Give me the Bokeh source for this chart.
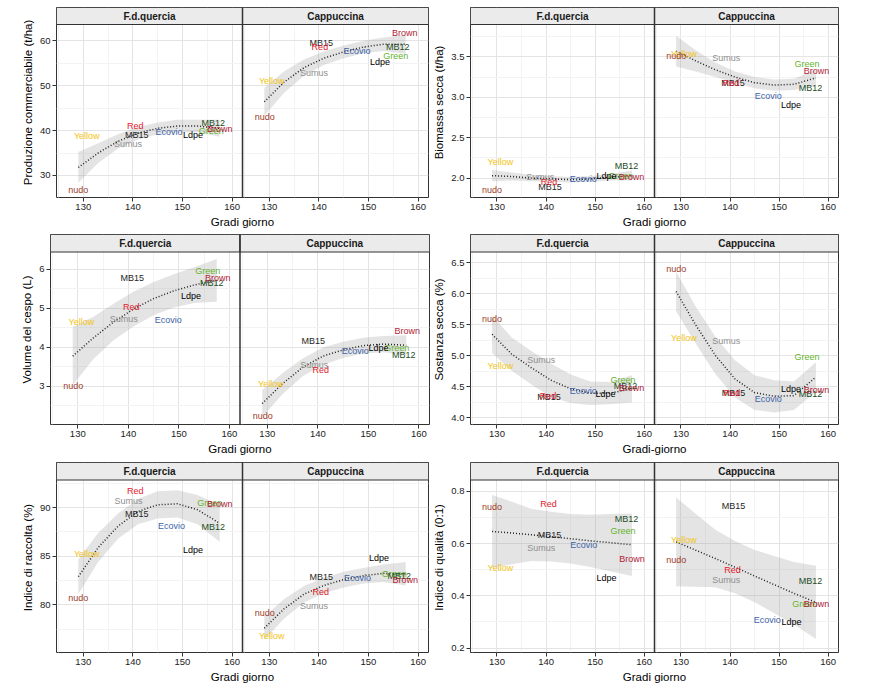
import numpy as np
from bokeh.plotting import figure
from bokeh.layouts import column, row
from bokeh.models import (Range1d, FixedTicker, CustomJSTickFormatter,
                          PrintfTickFormatter, Span, ColumnDataSource)
from bokeh.core.properties import value
from bokeh.embed import file_html
from bokeh.resources import INLINE

FONT = "Liberation Sans"

# ---------------- data ----------------
TREAT = ["nudo", "Yellow", "Sumus", "Red", "MB15", "Ecovio", "Ldpe", "Green", "MB12", "Brown"]
COLORS = ["#9c3b2a", "#f2c314", "#8f8f8f", "#e3202b", "#262626", "#3e63a8",
          "#000000", "#66b32e", "#1e4d1e", "#b02235"]
DRAW_ORDER = ["Yellow", "Green", "MB12", "Sumus", "MB15", "Red", "Ecovio", "Ldpe", "Brown", "nudo"]
SITES = ["F.d.quercia", "Cappuccina"]

X_LIM = (124.6, 162.1)
X_TICKS = [130, 140, 150, 160]
X_MINOR = [125, 135, 145, 155]
FIT_X = [129, 133, 137, 141, 145, 149, 153, 157.5]

# Produzione commerciabile (t/ha)
PROD_FQ_X = [129.0, 130.7, 139.0, 140.5, 140.8, 147.3, 152.1, 155.8, 156.2, 157.5]
PROD_FQ_Y = [26.8, 38.7, 36.9, 41.0, 39.0, 39.6, 39.1, 39.9, 41.7, 40.4]
PROD_CA_X = [129.1, 130.5, 139.0, 140.2, 140.5, 147.7, 152.3, 155.5, 155.9, 157.3]
PROD_CA_Y = [43.1, 51.0, 52.7, 58.5, 59.5, 57.8, 55.2, 56.6, 58.5, 61.6]
PROD_FQ_FIT = [31.8, 35.0, 37.6, 39.4, 40.5, 41.0, 41.0, 40.5]
PROD_FQ_SE = [3.4, 2.2, 1.6, 1.4, 1.3, 1.4, 1.4, 1.9]
PROD_CA_FIT = [46.4, 50.8, 54.0, 56.1, 57.5, 58.6, 59.2, 59.2]
PROD_CA_SE = [3.1, 2.4, 1.8, 1.5, 1.4, 1.4, 1.5, 2.1]

# Biomassa secca (t/ha)
BIOM_FQ_X = [129.0, 130.7, 138.8, 140.6, 140.8, 147.6, 152.3, 155.2, 156.4, 157.4]
BIOM_FQ_Y = [1.85, 2.20, 2.01, 1.95, 1.89, 1.99, 2.02, 2.03, 2.15, 2.01]
BIOM_CA_X = [129.05, 130.6, 139.2, 140.2, 140.6, 147.8, 152.4, 155.7, 156.4, 157.6]
BIOM_CA_Y = [3.51, 3.53, 3.48, 3.18, 3.18, 3.01, 2.91, 3.41, 3.11, 3.33]
BIOM_FQ_FIT = [2.03, 2.02, 2.00, 1.99, 1.98, 1.99, 2.01, 2.03]
BIOM_FQ_SE = [0.07, 0.05, 0.04, 0.035, 0.035, 0.035, 0.04, 0.06]
BIOM_CA_FIT = [3.57, 3.45, 3.34, 3.25, 3.18, 3.15, 3.16, 3.24]
BIOM_CA_SE = [0.19, 0.13, 0.09, 0.07, 0.07, 0.07, 0.07, 0.10]

# Volume del cespo (L)
VOL_FQ_X = [129.1, 130.7, 139.1, 140.6, 140.8, 147.9, 152.4, 155.7, 156.5, 157.7]
VOL_FQ_Y = [3.01, 4.66, 4.72, 5.03, 5.79, 4.69, 5.32, 5.96, 5.64, 5.77]
VOL_CA_X = [129.1, 130.7, 139.3, 140.6, 139.1, 147.4, 152.0, 155.6, 157.0, 157.7]
VOL_CA_Y = [2.23, 3.06, 3.53, 3.41, 4.16, 3.90, 3.97, 3.97, 3.80, 4.42]
VOL_FQ_FIT = [3.77, 4.23, 4.64, 4.98, 5.25, 5.45, 5.60, 5.72]
VOL_FQ_SE = [0.75, 0.55, 0.47, 0.45, 0.43, 0.43, 0.46, 0.55]
VOL_CA_FIT = [2.55, 3.06, 3.48, 3.77, 3.93, 4.04, 4.08, 4.05]
VOL_CA_SE = [0.35, 0.27, 0.23, 0.22, 0.21, 0.20, 0.21, 0.26]

# Sostanza secca (%)
SS_FQ_X = [129.0, 130.7, 139.0, 140.4, 140.6, 147.6, 152.1, 155.7, 156.2, 157.4]
SS_FQ_Y = [5.59, 4.84, 4.94, 4.35, 4.34, 4.44, 4.39, 4.61, 4.51, 4.49]
SS_CA_X = [129.05, 130.6, 139.2, 140.4, 140.7, 147.8, 152.4, 155.7, 156.4, 157.6]
SS_CA_Y = [6.40, 5.29, 5.24, 4.40, 4.40, 4.31, 4.46, 4.99, 4.38, 4.45]
SS_FQ_FIT = [5.35, 5.03, 4.81, 4.61, 4.47, 4.40, 4.40, 4.47]
SS_FQ_SE = [0.30, 0.27, 0.27, 0.27, 0.23, 0.19, 0.18, 0.22]
SS_CA_FIT = [6.04, 5.50, 5.01, 4.63, 4.41, 4.35, 4.36, 4.66]
SS_CA_SE = [0.32, 0.30, 0.30, 0.30, 0.28, 0.26, 0.23, 0.24]

# Indice di raccolta (%)
IR_FQ_X = [129.0, 130.7, 139.1, 140.5, 140.8, 147.8, 152.1, 155.5, 156.2, 157.5]
IR_FQ_Y = [80.7, 85.2, 90.7, 91.7, 89.35, 88.1, 85.6, 90.5, 88.0, 90.4]
IR_CA_X = [129.1, 130.5, 139.0, 140.4, 140.5, 147.8, 152.1, 155.2, 156.2, 157.4]
IR_CA_Y = [79.2, 76.8, 79.9, 81.3, 82.85, 82.75, 84.86, 83.2, 83.0, 82.6]
IR_FQ_FIT = [82.9, 85.9, 88.1, 89.6, 90.3, 90.4, 89.8, 88.4]
IR_FQ_SE = [1.8, 1.5, 1.3, 1.3, 1.4, 1.4, 1.5, 1.9]
IR_CA_FIT = [77.6, 79.6, 81.1, 82.0, 82.6, 83.0, 83.25, 83.2]
IR_CA_SE = [1.2, 1.0, 0.85, 0.8, 0.8, 0.8, 0.9, 1.2]

# Indice di qualita (0:1)
IQ_FQ_X = [129.0, 130.7, 139.0, 140.5, 140.7, 147.7, 152.3, 155.7, 156.4, 157.5]
IQ_FQ_Y = [0.742, 0.506, 0.583, 0.751, 0.632, 0.595, 0.468, 0.647, 0.695, 0.541]
IQ_CA_X = [129.05, 130.6, 139.2, 140.5, 140.7, 147.6, 152.5, 155.2, 156.4, 157.6]
IQ_CA_Y = [0.538, 0.615, 0.461, 0.50, 0.745, 0.307, 0.298, 0.37, 0.456, 0.37]
IQ_FQ_FIT = [0.647, 0.641, 0.634, 0.627, 0.619, 0.611, 0.604, 0.596]
IQ_FQ_SE = [0.14, 0.12, 0.10, 0.095, 0.095, 0.10, 0.11, 0.12]
IQ_CA_FIT = [0.607, 0.575, 0.543, 0.510, 0.476, 0.443, 0.410, 0.375]
IQ_CA_SE = [0.17, 0.14, 0.11, 0.10, 0.10, 0.11, 0.12, 0.14]


def make_panel(ylabel, xlabel, ylim, yticks, yminor, yfmt,
               fq_x, fq_y, ca_x, ca_y, fq_fit, fq_se, ca_fit, ca_se,
               width, height, mb_left, mb_right, mb_top, mb_bottom, strip_px):
    shift = X_LIM[1] - X_LIM[0]
    frame_h = height - mb_bottom - mb_top
    plot_px = frame_h - strip_px
    y0, y1 = ylim
    ystrip = y1 + strip_px * (y1 - y0) / plot_px

    p = figure(width=width, height=height,
               x_range=Range1d(X_LIM[0], X_LIM[1] + shift),
               y_range=Range1d(y0, ystrip),
               output_backend="svg", toolbar_location=None, title=None,
               min_border_left=mb_left, min_border_right=mb_right,
               min_border_top=mb_top, min_border_bottom=mb_bottom)
    p.background_fill_color = "white"
    p.border_fill_color = "white"
    p.outline_line_color = "#333333"
    p.outline_line_width = 1

    xt = FixedTicker(ticks=X_TICKS + [t + shift for t in X_TICKS],
                     minor_ticks=X_MINOR + [t + shift for t in X_MINOR])
    yt = FixedTicker(ticks=yticks, minor_ticks=yminor)
    p.xaxis.ticker = xt
    p.yaxis.ticker = yt
    p.xgrid.ticker = xt
    p.ygrid.ticker = yt
    p.xaxis.formatter = CustomJSTickFormatter(
        code="return (tick > %f ? tick - %f : tick).toFixed(0);" % (X_LIM[1], shift))
    p.yaxis.formatter = PrintfTickFormatter(format=yfmt)

    for g in (p.xgrid, p.ygrid):
        g.grid_line_color = "#e4e4e4"
        g.grid_line_width = 1
        g.minor_grid_line_color = "#f3f3f3"
        g.minor_grid_line_width = 1

    for ax in (p.xaxis, p.yaxis):
        ax.axis_line_color = None
        ax.minor_tick_line_color = None
        ax.major_tick_in = 0
        ax.major_tick_out = 4
        ax.major_tick_line_color = "#333333"
        ax.major_label_text_font = FONT
        ax.major_label_text_font_size = "9.5px"
        ax.major_label_text_color = "#222222"
        ax.major_label_standoff = 2
        ax.axis_label_text_font = FONT
        ax.axis_label_text_font_size = "11.5px"
        ax.axis_label_text_font_style = "normal"
        ax.axis_label_text_color = "#000000"
        ax.axis_label_standoff = 3
    p.xaxis.axis_label = xlabel
    p.yaxis.axis_label = ylabel

    fx = np.array(FIT_X, dtype=float)
    for k, (fit, se) in enumerate(((fq_fit, fq_se), (ca_fit, ca_se))):
        xs = fx + k * shift
        fit = np.array(fit)
        se = np.array(se)
        p.varea(x=xs, y1=fit - se, y2=fit + se, fill_color="#9a9a9a", fill_alpha=0.27)
        p.line(x=xs, y=fit, line_color="#222222", line_width=1.5, line_dash="1 2")

    for k, (xv, yv) in enumerate(((fq_x, fq_y), (ca_x, ca_y))):
        idx = [TREAT.index(t) for t in DRAW_ORDER]
        src = ColumnDataSource(dict(
            x=[xv[i] + k * shift for i in idx],
            y=[yv[i] for i in idx],
            t=[TREAT[i] for i in idx],
            c=[COLORS[i] for i in idx]))
        p.text(x="x", y="y", text="t", text_color="c", source=src,
               text_align="center", text_baseline="middle",
               text_font=value(FONT), text_font_size="9px")

    # facet strips
    p.quad(left=[X_LIM[0], X_LIM[1]], right=[X_LIM[1], X_LIM[1] + shift],
           bottom=[y1, y1], top=[ystrip, ystrip],
           fill_color="#ebebeb", line_color="#333333", line_width=1)
    p.text(x=[(X_LIM[0] + X_LIM[1]) / 2, (X_LIM[0] + X_LIM[1]) / 2 + shift],
           y=[(y1 + ystrip) / 2] * 2, text=SITES,
           text_align="center", text_baseline="middle",
           text_font=value(FONT), text_font_size="10px",
           text_font_style="bold", text_color="#1a1a1a")

    p.add_layout(Span(location=X_LIM[1], dimension="height",
                      line_color="#333333", line_width=1.5))
    return p


# left panels: canvas starts at x=0; right panels start at x=430
p1 = make_panel("Produzione commerciabile (t/ha)", "Gradi giorno", (25.1, 63.6),
                [30, 40, 50, 60], [35, 45, 55], "%d",
                PROD_FQ_X, PROD_FQ_Y, PROD_CA_X, PROD_CA_Y,
                PROD_FQ_FIT, PROD_FQ_SE, PROD_CA_FIT, PROD_CA_SE,
                430, 234, 56, 2, 7, 37, 17)
p2 = make_panel("Biomassa secca (t/ha)", "Gradi giorno", (1.76, 3.90),
                [2.0, 2.5, 3.0, 3.5], [2.25, 2.75, 3.25, 3.75], "%.1f",
                BIOM_FQ_X, BIOM_FQ_Y, BIOM_CA_X, BIOM_CA_Y,
                BIOM_FQ_FIT, BIOM_FQ_SE, BIOM_CA_FIT, BIOM_CA_SE,
                413, 234, 38, 5, 7, 37, 17)
p3 = make_panel("Volume del cespo (L)", "Gradi giorno", (2.01, 6.45),
                [3, 4, 5, 6], [2.5, 3.5, 4.5, 5.5], "%d",
                VOL_FQ_X, VOL_FQ_Y, VOL_CA_X, VOL_CA_Y,
                VOL_FQ_FIT, VOL_FQ_SE, VOL_CA_FIT, VOL_CA_SE,
                430, 228, 50, 1, 0, 38, 17.5)
p4 = make_panel("Sostanza secca (%)", "Gradi-giorno", (3.895, 6.677),
                [4.0, 4.5, 5.0, 5.5, 6.0, 6.5], [4.25, 4.75, 5.25, 5.75, 6.25], "%.1f",
                SS_FQ_X, SS_FQ_Y, SS_CA_X, SS_CA_Y,
                SS_FQ_FIT, SS_FQ_SE, SS_CA_FIT, SS_CA_SE,
                413, 228, 38, 5, 0, 38, 17.5)
p5 = make_panel("Indice di raccolta (%)", "Gradi giorno", (75.1, 92.85),
                [80, 85, 90], [77.5, 82.5, 87.5, 92.5], "%d",
                IR_FQ_X, IR_FQ_Y, IR_CA_X, IR_CA_Y,
                IR_FQ_FIT, IR_FQ_SE, IR_CA_FIT, IR_CA_SE,
                430, 229, 56, 2, 0, 39, 17.5)
p6 = make_panel("Indice di qualità (0:1)", "Gradi giorno", (0.183, 0.844),
                [0.2, 0.4, 0.6, 0.8], [0.3, 0.5, 0.7], "%.1f",
                IQ_FQ_X, IQ_FQ_Y, IQ_CA_X, IQ_CA_Y,
                IQ_FQ_FIT, IQ_FQ_SE, IQ_CA_FIT, IQ_CA_SE,
                413, 229, 38, 5, 0, 39, 17.5)

layout = column(row(p1, p2), row(p3, p4), row(p5, p6))
open("out.html", "w").write(file_html(layout, INLINE))
